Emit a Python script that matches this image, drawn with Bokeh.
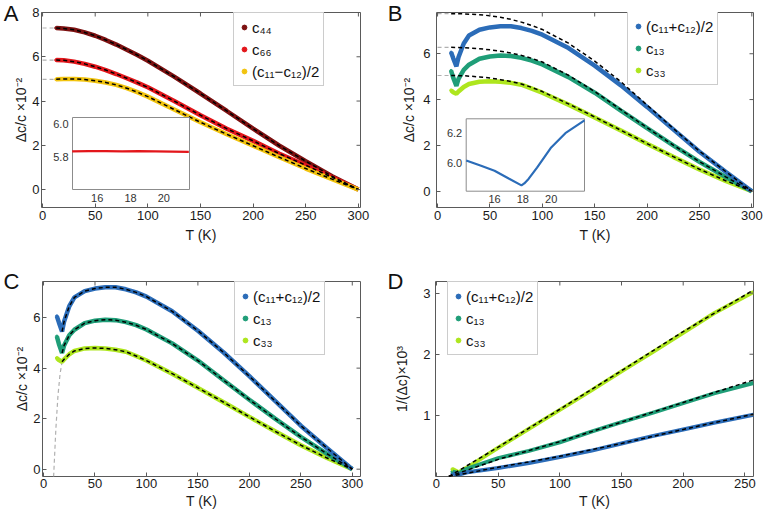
import math
from bokeh.plotting import figure
from bokeh.models import Range1d, FixedTicker, Legend, LegendItem, LinearAxis, PrintfTickFormatter
from bokeh.layouts import column, row
from bokeh.embed import file_html
from bokeh.resources import INLINE
from bokeh.core.properties import value

FONT = "Liberation Sans"

# ---------------- data ----------------
# Panel A
T_A = [13, 20, 30, 40, 50, 60, 70, 80, 90, 100, 125, 150, 175, 200, 225, 250, 275, 300]
c44 = [7.30, 7.28, 7.22, 7.10, 6.95, 6.76, 6.55, 6.32, 6.08, 5.82, 5.10, 4.34, 3.55, 2.75, 1.98, 1.28, 0.60, 0.0]
c66 = [5.85, 5.84, 5.78, 5.68, 5.55, 5.40, 5.22, 5.03, 4.83, 4.62, 4.00, 3.36, 2.75, 2.20, 1.62, 1.10, 0.55, 0.0]
c11m12 = [4.98, 5.00, 5.00, 4.97, 4.92, 4.84, 4.73, 4.58, 4.40, 4.20, 3.62, 3.04, 2.50, 1.98, 1.46, 0.95, 0.47, 0.0]
labels_A = ["c\u2084\u2084", "c\u2086\u2086", "(c\u2081\u2081\u2212c\u2081\u2082)/2"]
colors_A = ["#7d1111", "#e3161b", "#f2c40f"]

# inset A (c66 near transition)
T_insA = [14.5, 15.5, 16.5, 17.5, 18.5, 19.5, 20.5, 21.5]
c66_insA = [5.832, 5.833, 5.833, 5.832, 5.833, 5.832, 5.830, 5.828]
insA_xlim = [14.52, 21.54]
insA_ylim = [5.598, 6.039]
insA_xticks = [16, 18, 20]
insA_yticks = [5.8, 6.0]

# Panels B / C (same measured data)
T_B = [13, 15, 18, 20, 25, 30, 40, 50, 60, 70, 80, 90, 100, 125, 150, 175, 200, 225, 250, 275, 300]
c11p12 = [6.05, 5.80, 5.45, 5.85, 6.45, 6.80, 7.05, 7.15, 7.20, 7.20, 7.12, 7.00, 6.83, 6.25, 5.48, 4.62, 3.68, 2.70, 1.72, 0.85, 0.0]
c13 = [5.25, 4.95, 4.60, 4.90, 5.30, 5.52, 5.78, 5.88, 5.92, 5.90, 5.82, 5.70, 5.53, 4.98, 4.30, 3.52, 2.75, 2.00, 1.28, 0.62, 0.0]
c33 = [4.40, 4.32, 4.25, 4.35, 4.55, 4.68, 4.78, 4.80, 4.78, 4.73, 4.65, 4.48, 4.30, 3.78, 3.22, 2.65, 2.07, 1.50, 0.95, 0.45, 0.0]
labels_B = ["(c\u2081\u2081+c\u2081\u2082)/2", "c\u2081\u2083", "c\u2083\u2083"]
colors_B = ["#2b6cb8", "#1f9e78", "#aee61e"]

# Panel B background fits
T_Bf = [0, 13, 25, 40, 50, 60, 70, 80, 90, 100, 125, 150, 175, 200, 225, 250, 275, 300]
fit_c11p12 = [7.75, 7.75, 7.74, 7.70, 7.66, 7.59, 7.50, 7.38, 7.23, 7.06, 6.46, 5.68, 4.78, 3.76, 2.74, 1.75, 0.86, 0.0]
fit_c13 = [6.28, 6.28, 6.26, 6.22, 6.17, 6.11, 6.03, 5.93, 5.80, 5.64, 5.06, 4.35, 3.56, 2.77, 2.01, 1.29, 0.63, 0.0]
fit_c33 = [5.05, 5.05, 5.04, 4.99, 4.94, 4.87, 4.79, 4.68, 4.53, 4.35, 3.81, 3.24, 2.66, 2.08, 1.51, 0.96, 0.46, 0.0]

# inset B ((c11+c12)/2 near transition)
T_insB = [14.0, 15.0, 16.0, 17.0, 17.9, 18.1, 18.4, 19.0, 20.0, 21.0, 22.35]
c11p12_insB = [6.018, 5.985, 5.950, 5.898, 5.852, 5.865, 5.895, 5.970, 6.105, 6.200, 6.285]
insB_xlim = [14.0, 22.35]
insB_ylim = [5.813, 6.296]
insB_xticks = [16, 18, 20]
insB_yticks = [6.0, 6.2]

# Panel C extrapolated fit below transition
T_Cx = [9.8, 12, 14, 16, 18]
fitC_x = [-0.3, 1.6, 2.9, 3.75, 4.25]

# Panel D
T_D = [13, 15, 18, 25, 50, 75, 100, 125, 150, 175, 200, 225, 257]
inv_c33 = [0.12, 0.10, 0.07, 0.15, 0.47, 0.78, 1.09, 1.40, 1.72, 2.03, 2.35, 2.67, 3.02]
inv_c13 = [0.08, 0.07, 0.05, 0.13, 0.30, 0.42, 0.56, 0.73, 0.89, 1.04, 1.20, 1.36, 1.53]
inv_c11p12 = [0.05, 0.04, 0.03, 0.07, 0.14, 0.22, 0.32, 0.42, 0.54, 0.66, 0.77, 0.88, 1.01]
T_Df = [10, 50, 100, 150, 200, 257]
fitD_c33 = [0.0, 0.48, 1.10, 1.73, 2.37, 3.05]
fitD_c13 = [0.0, 0.28, 0.57, 0.89, 1.21, 1.58]
fitD_c11p12 = [0.0, 0.15, 0.33, 0.54, 0.77, 1.02]

x_ticks = [0, 50, 100, 150, 200, 250, 300]
x_ticks_D = [0, 50, 100, 150, 200, 250]
y_ticks_A = [0, 2, 4, 6, 8]
y_ticks_BC = [0, 2, 4, 6]
y_ticks_D = [1, 2, 3]

YLAB = "\u0394c/c \u00d710\u207b\u00b2"
YLAB_D = "1/(\u0394c)\u00d710\u00b3"

FRAME = "#5a5a5a"
DW = 4.5
DASH = "4 3"


def style_axis(ax, ticks):
    ax.ticker = FixedTicker(ticks=ticks, minor_ticks=[])
    ax.axis_line_color = None
    ax.major_tick_in = 4
    ax.major_tick_out = 0
    ax.major_tick_line_color = FRAME
    ax.minor_tick_line_color = None
    ax.major_label_text_font = FONT
    ax.major_label_text_color = "#1a1a1a"
    ax.major_label_text_font_size = "13px"
    ax.axis_label_text_font = FONT
    ax.axis_label_text_font_size = "14px"
    ax.axis_label_text_font_style = "normal"
    ax.axis_label_text_color = "#1a1a1a"


def make_fig(w, h, bl, br, bt, bb, xr, yr, xt, yt, ylab, ystand, ylabstand, xstand, xlabstand):
    p = figure(width=w, height=h, x_range=Range1d(*xr), y_range=Range1d(*yr),
               output_backend="svg", toolbar_location=None, tools="",
               min_border_left=bl, min_border_right=br, min_border_top=bt, min_border_bottom=bb)
    p.grid.visible = False
    p.outline_line_color = FRAME
    p.outline_line_width = 1
    p.background_fill_color = "white"
    p.border_fill_color = "white"
    style_axis(p.xaxis[0], xt)
    style_axis(p.yaxis[0], yt)
    p.xaxis[0].axis_label = "T (K)"
    p.yaxis[0].axis_label = ylab
    p.yaxis[0].major_label_standoff = ystand
    p.yaxis[0].axis_label_standoff = ylabstand
    p.xaxis[0].major_label_standoff = xstand
    p.xaxis[0].axis_label_standoff = xlabstand
    return p


def frame_ticks(p, xt, yt, xr, yr):
    # inward tick marks on the top and right edges of the frame (half of each dash is clipped)
    p.scatter(x=xt, y=[yr[1]] * len(xt), marker="dash", size=8, angle=math.pi / 2,
              line_color=FRAME, line_width=1)
    p.scatter(x=[xr[1]] * len(yt), y=yt, marker="dash", size=8,
              line_color=FRAME, line_width=1)


def add_legend(p, labels, colors, xs, ys, loc):
    items = []
    for lab, col, x0, y0 in zip(labels, colors, xs, ys):
        r = p.scatter([x0], [y0], size=3, color=col)
        items.append(LegendItem(label=lab, renderers=[r]))
    leg = Legend(items=items, location=loc, margin=0, padding=4, spacing=2,
                 glyph_width=12, glyph_height=20, label_height=20, label_standoff=2,
                 label_text_font=FONT, label_text_font_size="15px", label_text_color="#111111",
                 border_line_color="#9a9a9a", border_line_width=1, background_fill_alpha=1)
    p.add_layout(leg)


def panel_letter(p, txt, ytop, standoff, size="22px"):
    # an extra outer left axis whose single label (at the frame's top) is the panel letter;
    # a negative standoff lets it sit over the (empty) top of the inner axis panel
    ax = LinearAxis(ticker=FixedTicker(ticks=[ytop], minor_ticks=[]),
                    formatter=PrintfTickFormatter(format=txt))
    ax.axis_line_color = None
    ax.major_tick_line_color = None
    ax.minor_tick_line_color = None
    ax.major_tick_in = 0
    ax.major_tick_out = 0
    ax.major_label_standoff = standoff
    ax.axis_label_standoff = 0
    ax.major_label_text_font = FONT
    ax.major_label_text_font_size = size
    ax.major_label_text_color = "#111111"
    p.add_layout(ax, "left")


def inset_range(d0, d1, p0, p1, full):
    s = (d1 - d0) / (p1 - p0)
    return Range1d(start=d0 - p0 * s, end=d0 + (full - p0) * s)


def add_inset(p, name, xlim, ylim, xpix, ypix, fw, fh, xs, ys, col, xticks, yticks):
    p.extra_x_ranges[name] = inset_range(xlim[0], xlim[1], xpix[0], xpix[1], fw)
    p.extra_y_ranges[name] = inset_range(ylim[0], ylim[1], ypix[0], ypix[1], fh)
    p.quad(left=[xlim[0]], right=[xlim[1]], bottom=[ylim[0]], top=[ylim[1]],
           x_range_name=name, y_range_name=name, fill_color="white", line_color="#8c8c8c", line_width=1)
    p.line(xs, ys, x_range_name=name, y_range_name=name, line_color=col, line_width=2.2)
    p.text(x=xticks, y=[ylim[0]] * len(xticks), text=["%g" % t for t in xticks],
           x_range_name=name, y_range_name=name, text_align="center", text_baseline="top",
           y_offset=4, text_font=value(FONT), text_font_size="11px", text_color="#333333")
    p.text(x=[xlim[0]] * len(yticks), y=yticks, text=["%.1f" % t for t in yticks],
           x_range_name=name, y_range_name=name, text_align="right", text_baseline="middle",
           x_offset=-4, text_font=value(FONT), text_font_size="11px", text_color="#333333")


# ---------------- Panel A ----------------
xrA, yrA = (-1, 302), (-0.81, 8.0)
pA = make_fig(384, 258, 41, 24, 12, 51, xrA, yrA, x_ticks, y_ticks_A, YLAB, 2, 0, 3, 4)
for ys in [c44, c66, c11m12]:
    pA.line([0, T_A[0]], [ys[0], ys[0]], line_color="#b0b0b0", line_dash=DASH, line_width=1.2)
add_legend(pA, labels_A, colors_A, [T_A[0]] * 3, [c44[0], c66[0], c11m12[0]], (192, 121))
for ys, col in zip([c44, c66, c11m12], colors_A):
    pA.line(T_A, ys, line_color=col, line_width=DW)
for ys in [c44, c66, c11m12]:
    pA.line(T_A, ys, line_color="black", line_dash=DASH, line_width=1.5)
add_inset(pA, "ins", insA_xlim, insA_ylim, (31, 148), (18, 90), 319, 195,
          T_insA, c66_insA, colors_A[1], insA_xticks, insA_yticks)
frame_ticks(pA, x_ticks, y_ticks_A, xrA, yrA)
panel_letter(pA, "A", yrA[1], -8)

# ---------------- Panel B ----------------
xrB, yrB = (-1, 301.6), (-0.71, 7.80)
pB = make_fig(382, 258, 52, 13, 12, 51, xrB, yrB, x_ticks, y_ticks_BC, YLAB, 6, 3, 3, 4)
fitsB = [fit_c11p12, fit_c13, fit_c33]
for f in fitsB:
    pB.line(T_Bf[:2], f[:2], line_color="#b0b0b0", line_dash=DASH, line_width=1.2)
add_legend(pB, labels_B, colors_B, [T_B[0]] * 3, [c11p12[0], c13[0], c33[0]], (191, 122))
for ys, col in zip([c33, c13, c11p12], colors_B[::-1]):
    pB.line(T_B, ys, line_color=col, line_width=DW)
for f in fitsB:
    pB.line(T_Bf[1:], f[1:], line_color="black", line_dash=DASH, line_width=1.5)
add_inset(pB, "ins", insB_xlim, insB_ylim, (29.7, 148), (16.3, 88.7), 317, 195,
          T_insB, c11p12_insB, colors_B[0], insB_xticks, insB_yticks)
frame_ticks(pB, x_ticks, y_ticks_BC, xrB, yrB)
panel_letter(pB, "B", yrB[1], -4)

# ---------------- Panel C ----------------
xrC, yrC = (-1, 308), (-0.29, 7.43)
pC = make_fig(384, 257, 41, 24, 22, 39, xrC, yrC, x_ticks, y_ticks_BC, YLAB, 2, 0, 2, 2)
pC.line(T_Cx, fitC_x, line_color="#b0b0b0", line_dash=DASH, line_width=1.2)
add_legend(pC, labels_B, colors_B, [T_B[0]] * 3, [c11p12[0], c13[0], c33[0]], (192, 121))
for ys, col in zip([c33, c13, c11p12], colors_B[::-1]):
    pC.line(T_B, ys, line_color=col, line_width=DW)
for ys in [c11p12, c13, c33]:
    pC.line(T_B[2:], ys[2:], line_color="black", line_dash=DASH, line_width=1.5)
frame_ticks(pC, x_ticks, y_ticks_BC, xrC, yrC)
panel_letter(pC, "C", yrC[1], -8)

# ---------------- Panel D ----------------
xrD, yrD = (-0.8, 257), (0, 3.19)
pD = make_fig(382, 257, 50, 13, 23, 39, xrD, yrD, x_ticks_D, y_ticks_D, YLAB_D, 5, 10, 2, 2)
add_legend(pD, labels_B, colors_B, [T_D[0]] * 3, [inv_c11p12[0], inv_c13[0], inv_c33[0]], (12, 121))
for ys, col in zip([inv_c33, inv_c13, inv_c11p12], colors_B[::-1]):
    pD.line(T_D, ys, line_color=col, line_width=4)
for f in [fitD_c33, fitD_c13, fitD_c11p12]:
    pD.line(T_Df, f, line_color="black", line_dash=DASH, line_width=1.5)
frame_ticks(pD, x_ticks_D, y_ticks_D, xrD, yrD)
panel_letter(pD, "D", yrD[1], -12)

layout = column(row(pA, pB), row(pC, pD))
open("out.html", "w").write(file_html(layout, INLINE))
